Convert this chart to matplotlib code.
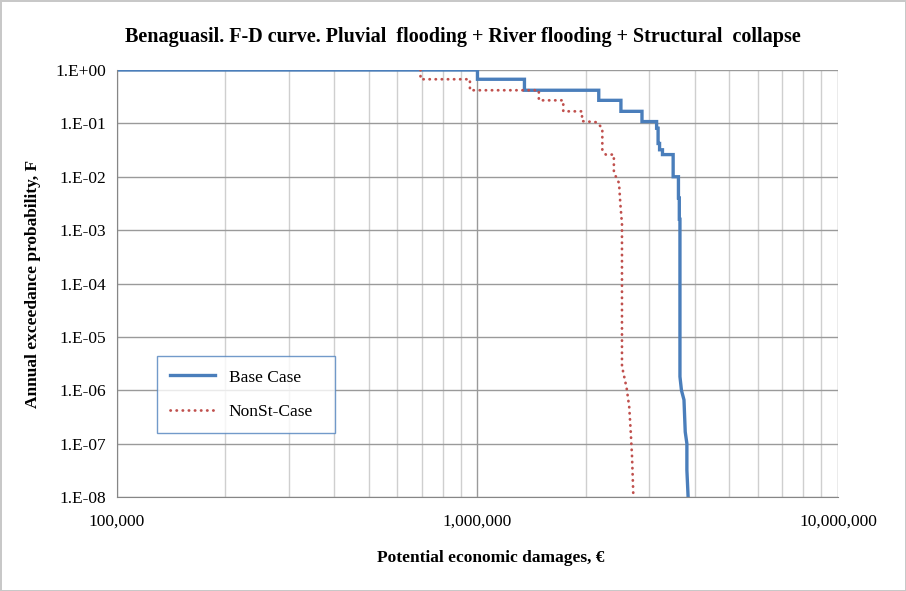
import matplotlib.pyplot as plt
from matplotlib.ticker import FixedLocator, LogLocator, NullFormatter, FuncFormatter

plt.rcParams['font.family'] = ['Liberation Serif', 'DejaVu Serif']

# F-D curve, base case (damages in EUR, annual exceedance probability)
base_damage = [1.0e5, 1.0e6, 1.0e6, 1.35e6, 1.35e6, 2.17e6, 2.17e6, 2.5e6, 2.5e6,
               2.86e6, 2.86e6, 3.14e6, 3.14e6, 3.17e6, 3.17e6, 3.20e6, 3.20e6,
               3.26e6, 3.26e6, 3.49e6, 3.49e6, 3.61e6, 3.61e6, 3.63e6, 3.63e6,
               3.645e6, 3.645e6, 3.68e6, 3.74e6, 3.77e6, 3.81e6, 3.81e6, 3.84e6]
base_prob = [1.0, 1.0, 0.67, 0.67, 0.417, 0.417, 0.27, 0.27, 0.168, 0.168,
             0.108, 0.108, 0.081, 0.081, 0.042, 0.042, 0.032, 0.032, 0.026,
             0.026, 0.01, 0.01, 0.004, 0.004, 0.0016, 0.0016, 1.8e-6, 1.0e-6,
             6.6e-7, 1.66e-7, 1.0e-7, 3.2e-8, 1.0e-8]

# F-D curve, non-stationary case
nonst_damage = [6.95e5, 6.95e5, 9.53e5, 9.53e5, 1.48e6, 1.48e6, 1.73e6, 1.73e6,
                1.95e6, 1.95e6, 2.14e6, 2.22e6, 2.22e6, 2.27e6, 2.39e6, 2.39e6,
                2.47e6, 2.49e6, 2.517e6, 2.517e6, 2.565e6, 2.593e6, 2.636e6,
                2.66e6, 2.684e6, 2.707e6]
nonst_prob = [1.0, 0.67, 0.67, 0.417, 0.417, 0.27, 0.27, 0.168, 0.168, 0.11,
              0.105, 0.081, 0.032, 0.026, 0.026, 0.012, 0.0076, 0.0032, 0.0013,
              2.8e-6, 1.55e-6, 1.1e-6, 4.9e-7, 1.8e-7, 5.7e-8, 1.0e-8]

y_ticks = [10.0 ** -k for k in range(0, 9)]
y_labels = ['1.E+00', '1.E-01', '1.E-02', '1.E-03', '1.E-04', '1.E-05',
            '1.E-06', '1.E-07', '1.E-08']

fig = plt.figure(figsize=(9.06, 5.91), dpi=100)
ax = fig.add_axes([0.1291, 0.159, 0.7958, 0.7226])

ax.plot(base_damage, base_prob, color='#4a7ebb', lw=2.4, label='Base Case',
        solid_joinstyle='miter')
ax.plot(nonst_damage, nonst_prob, color='#c0504d', lw=2.0, ls=(0, (0.1, 2.1)),
        dash_capstyle='round', label='NonSt-Case')

ax.set_xscale('log')
ax.set_yscale('log')
ax.set_xlim(1e5, 1e7)
ax.set_ylim(1e-8, 1)

ax.yaxis.set_major_locator(FixedLocator(y_ticks))
ax.set_yticks(y_ticks)
ax.set_yticklabels(y_labels)
ax.yaxis.set_minor_locator(FixedLocator([]))

ax.xaxis.set_major_locator(FixedLocator([1e5, 1e6, 1e7]))
ax.xaxis.set_major_formatter(FuncFormatter(lambda v, p: f'{v:,.0f}'))
ax.xaxis.set_minor_locator(LogLocator(base=10, subs=range(2, 10)))
ax.xaxis.set_minor_formatter(NullFormatter())

ax.grid(which='major', color='#9a9a9a', lw=1.0)
ax.grid(which='minor', axis='x', color='#cfcfcf', lw=1.0)
ax.set_axisbelow(True)

for side in ['top', 'right']:
    ax.spines[side].set_visible(False)
for side in ['left', 'bottom']:
    ax.spines[side].set_color('#868686')
ax.tick_params(which='both', length=0, labelsize=12.5, pad=8)
ax.tick_params(axis='x', pad=12)

ax.set_title('Benaguasil. F-D curve. Pluvial  flooding + River flooding + Structural  collapse',
             fontsize=14.5, fontweight='bold', pad=20, x=0.48)
ax.set_xlabel('Potential economic damages, €', fontsize=12.5, fontweight='bold')
ax.xaxis.set_label_coords(0.519, -0.125)
ax.set_ylabel('Annual exceedance probability, F', fontsize=12.5, fontweight='bold',
              labelpad=10)

leg = ax.legend(loc='lower left', bbox_to_anchor=(0.055, 0.15, 0.247, 0.187),
                mode='expand', fontsize=12.5, frameon=True, fancybox=False,
                handlelength=2.6, labelspacing=1.05, borderpad=0.75,
                borderaxespad=0)
leg.get_frame().set_edgecolor('#4f81bd')
leg.get_frame().set_linewidth(1.0)

fig.patch.set_edgecolor('#c8c8c8')
fig.patch.set_linewidth(2)

fig.savefig('out.png', dpi=100, edgecolor=fig.get_edgecolor())
